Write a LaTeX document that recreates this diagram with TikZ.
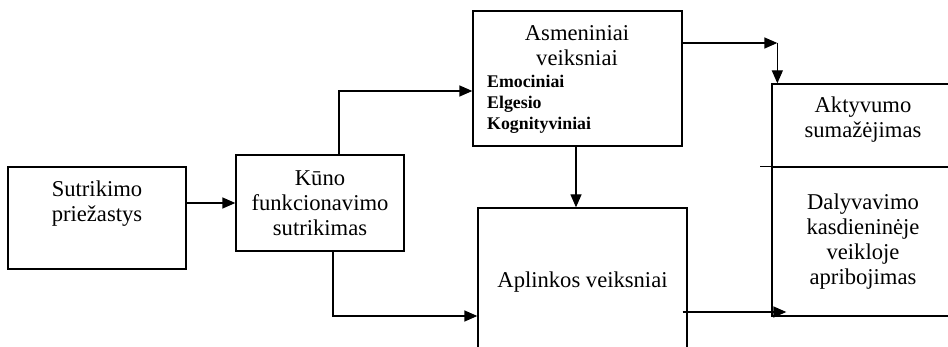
\documentclass[tikz,border=0pt]{standalone}
\usepackage{fontspec}
\setmainfont{Liberation Serif}
\usetikzlibrary{arrows.meta,positioning}

\begin{document}
\begin{tikzpicture}[x=1pt,y=-1pt,
   box/.style={draw,line width=1.3pt,inner sep=0pt},
   txt/.style={align=center,inner sep=0pt,font=\fontsize{22.6pt}{25pt}\selectfont},
   bld/.style={align=left,inner sep=0pt,font=\fontsize{17.8pt}{21pt}\selectfont\bfseries},
   arr/.style={line width=1.3pt,-{Triangle[length=13pt,width=11pt]}}]

   \useasboundingbox (0,0) rectangle (948,347);
   \clip (0,0) rectangle (948,347);

   \node[box,minimum width=178pt,minimum height=102pt] (cause) at (97,218) {};
   \node[txt] (causetxt) at (97,204) {Sutrikimo\\priežastys};

   \node[box,txt,minimum width=168pt,minimum height=96pt] (kuno) at (320,203) {Kūno\\funkcionavimo\\sutrikimas};

   \node[box,minimum width=209pt,minimum height=135pt] (asmen) at (577.5,78.5) {};
   \node[txt] (asmentxt) at (577,46) {Asmeniniai\\veiksniai};
   \node[bld,anchor=west] (asmenlist) at (487,104) {Emociniai\\Elgesio\\Kognityviniai};

   \node[box,txt,minimum width=209pt,minimum height=148pt] (aplink) at (582.5,282) {Aplinkos veiksniai};

   \node[box,minimum width=182pt,minimum height=83pt] (aktyv) at (863,125.5) {};
   \node[txt] (aktyvtxt) at (863,120) {Aktyvumo\\sumažėjimas};
   \node[box,txt,minimum width=182pt,minimum height=149pt] (dalyv) at (863,241.5) {Dalyvavimo\\kasdieninėje\\veikloje\\apribojimas};
   \draw[line width=1.3pt] ([xshift=-11pt]dalyv.north west) -- (dalyv.north west);

   \draw[arr] (cause.east |- kuno.west) -- (kuno.west);
   \draw[arr] ([xshift=19pt]kuno.north) |- ([yshift=-12.5pt]asmen.west);
   \draw[arr] ([xshift=13pt]kuno.south) |- ([yshift=-34pt]aplink.west);

   \coordinate (asmendown) at ([xshift=-1.5pt]asmen.south);
   \draw[arr] (asmendown) -- (asmendown |- aplink.north);

   \coordinate (asmenout) at ([yshift=35.5pt]asmen.east);
   \coordinate (aktyvin) at ([xshift=6pt]aktyv.north west);
   \draw[arr] (asmenout) -- (asmenout -| aktyvin);
   \draw[arr] (asmenout -| aktyvin) -- (aktyvin);

   \coordinate (aplinkout) at ([xshift=-5pt,yshift=-30pt]aplink.east);
   \coordinate (dalyvin) at ([xshift=15pt]dalyv.west);
   \draw[arr] (aplinkout) -- (aplinkout -| dalyvin);

\end{tikzpicture}
\end{document}
